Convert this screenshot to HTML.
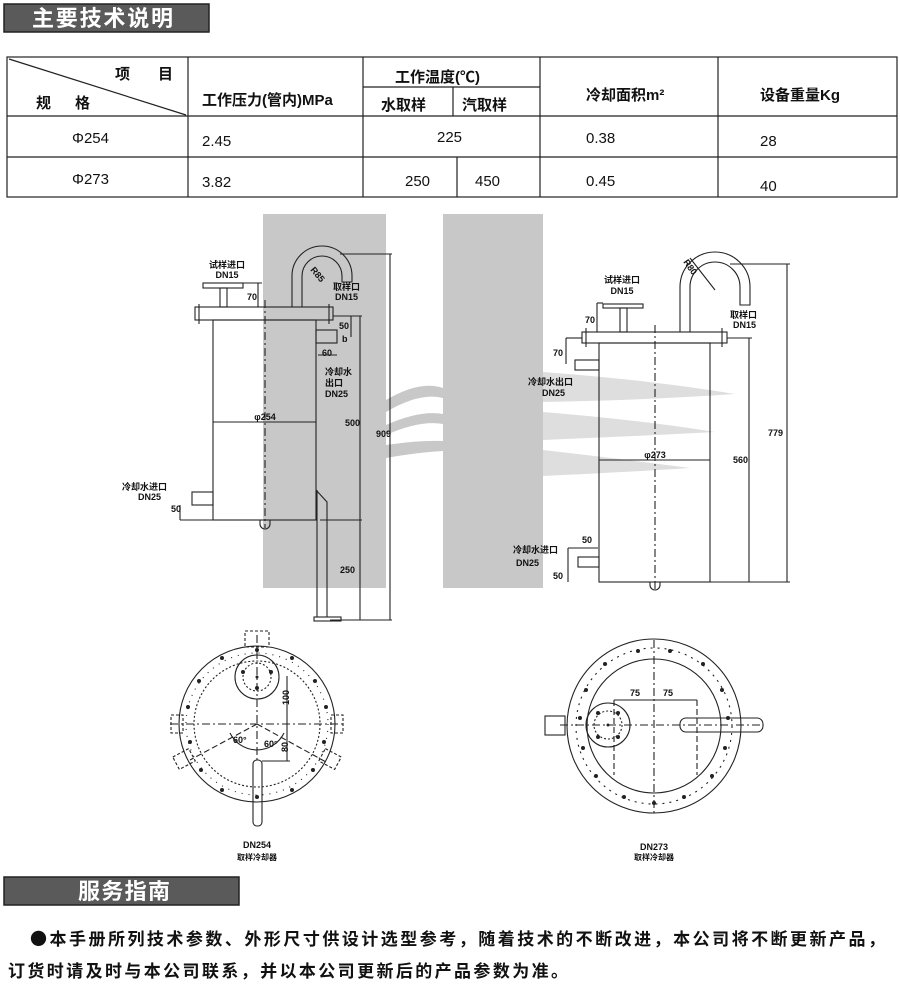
<!DOCTYPE html>
<html><head><meta charset="utf-8"><style>
html,body{margin:0;padding:0;background:#fff;}
svg{display:block;font-family:"Liberation Sans","Noto Sans CJK SC",sans-serif;}
.t{font-weight:bold;fill:#111;}
</style></head><body>
<svg width="900" height="985" viewBox="0 0 900 985" xmlns="http://www.w3.org/2000/svg">
<!-- header 1 -->
<rect x="4" y="4" width="205" height="28" fill="#5a5a5a" stroke="#222" stroke-width="1.5"/>
<text x="32" y="26" font-size="22" font-weight="bold" fill="#fff" font-family="Noto Sans CJK SC,sans-serif" textLength="141">主要技术说明</text>
<!-- table -->
<g stroke="#222" stroke-width="1.2" fill="none">
<rect x="7" y="57" width="890" height="140"/>
<line x1="7" y1="116" x2="897" y2="116"/>
<line x1="7" y1="157" x2="897" y2="157"/>
<line x1="188" y1="57" x2="188" y2="197"/>
<line x1="363" y1="57" x2="363" y2="197"/>
<line x1="540" y1="57" x2="540" y2="197"/>
<line x1="718" y1="57" x2="718" y2="197"/>
<line x1="363" y1="87" x2="540" y2="87"/>
<line x1="453" y1="87" x2="453" y2="116"/>
<line x1="457" y1="157" x2="457" y2="197"/>
<line x1="9" y1="59" x2="186" y2="115"/>
</g>
<g class="t" font-size="15">
<text x="115" y="79">项</text><text x="158" y="79">目</text>
<text x="36" y="108">规</text><text x="75" y="108">格</text>
<text x="202" y="105">工作压力(管内)MPa</text>
<text x="395" y="82">工作温度(℃)</text>
<text x="381" y="110">水取样</text><text x="462" y="110">汽取样</text>
<text x="586" y="100">冷却面积m²</text>
<text x="760" y="100">设备重量Kg</text>
<text x="72" y="143" font-weight="normal">Φ254</text>
<text x="202" y="146" font-weight="normal">2.45</text>
<text x="437" y="142" font-weight="normal">225</text>
<text x="586" y="143" font-weight="normal">0.38</text>
<text x="760" y="146" font-weight="normal">28</text>
<text x="72" y="184" font-weight="normal">Φ273</text>
<text x="202" y="187" font-weight="normal">3.82</text>
<text x="405" y="186" font-weight="normal">250</text>
<text x="475" y="186" font-weight="normal">450</text>
<text x="586" y="186" font-weight="normal">0.45</text>
<text x="760" y="191" font-weight="normal">40</text>
</g>
<!-- gray background -->
<g fill="#c8c8c8">
<rect x="263" y="214" width="123" height="374"/>
<rect x="443" y="214" width="100" height="374"/>
<path d="M386 400 Q420 380 443 388 L443 398 Q420 392 386 412Z"/>
<path d="M386 425 Q420 410 443 414 L443 424 Q420 420 386 435Z"/>
<path d="M386 445 Q420 440 443 441 L443 451 Q420 452 386 458Z"/>
<path d="M543 372 Q650 380 735 394 Q650 400 543 402Z" opacity="0.6"/>
<path d="M543 412 Q640 420 715 432 Q640 436 543 440Z" opacity="0.6"/>
<path d="M543 450 Q630 460 690 468 Q630 472 543 476Z" opacity="0.6"/>
</g>
<!-- LEFT ELEVATION -->
<g stroke="#222" stroke-width="1.1" fill="none">
<rect x="195" y="307" width="138" height="13"/>
<line x1="199" y1="304" x2="199" y2="324"/><line x1="329" y1="304" x2="329" y2="324"/>
<rect x="213" y="320" width="103" height="200"/>
<line x1="265" y1="300" x2="265" y2="528" stroke-dasharray="8 3 2 3"/>
<line x1="213" y1="422" x2="316" y2="422"/>
<rect x="203" y="283" width="40" height="5"/>
<rect x="220" y="288" width="7" height="19"/>
<line x1="243" y1="283" x2="262" y2="283"/><line x1="258" y1="283" x2="258" y2="307"/>
<path d="M292 307 L292 276 A30 30 0 0 1 352 276 L352 282 L342 282 L342 276 A20 20 0 0 0 302 276 L302 307"/>
<rect x="316" y="330" width="21" height="13"/>
<rect x="192" y="492" width="21" height="13"/>
<line x1="180" y1="505" x2="180" y2="520"/><line x1="180" y1="520" x2="213" y2="520"/>
<path d="M316 490 L327 502 L327 617 L317 617 L317 490"/>
<rect x="314" y="617" width="27" height="4"/>
<path d="M260 520 h10 v4 a5 5 0 0 1 -10 0z"/>
<line x1="333" y1="316" x2="362" y2="316"/>
<line x1="360" y1="316" x2="360" y2="620"/>
<line x1="320" y1="520" x2="362" y2="520"/>
<line x1="340" y1="254" x2="392" y2="254"/>
<line x1="390" y1="254" x2="390" y2="620"/>
<line x1="330" y1="620" x2="392" y2="620"/>
<line x1="351" y1="316" x2="351" y2="337"/>
<line x1="318" y1="355" x2="337" y2="355"/>
</g>
<g class="t" font-size="9">
<text x="227" y="268" text-anchor="middle">试样进口</text>
<text x="227" y="278" text-anchor="middle">DN15</text>
<text x="247" y="300">70</text>
<text x="333" y="290">取样口</text><text x="335" y="300">DN15</text>
<text x="339" y="329">50</text><text x="342" y="342">b</text>
<text x="322" y="356">60</text>
<text x="325" y="375">冷却水</text><text x="325" y="386">出口</text><text x="325" y="397">DN25</text>
<text x="345" y="426">500</text>
<text x="376" y="437">909</text>
<text x="265" y="420" text-anchor="middle">φ254</text>
<text x="122" y="490">冷却水进口</text><text x="138" y="500">DN25</text>
<text x="171" y="512">50</text>
<text x="340" y="573">250</text>
<text x="310" y="270" transform="rotate(50 310 270)">R85</text>
</g>
<!-- RIGHT ELEVATION -->
<g stroke="#222" stroke-width="1.1" fill="none">
<rect x="582" y="332" width="145" height="11"/>
<line x1="586" y1="328" x2="586" y2="347"/><line x1="722" y1="328" x2="722" y2="347"/>
<rect x="599" y="343" width="111" height="239"/>
<line x1="655" y1="325" x2="655" y2="590" stroke-dasharray="8 3 2 3"/>
<line x1="599" y1="460" x2="710" y2="460"/>
<rect x="603" y="304" width="40" height="4"/>
<rect x="620" y="308" width="7" height="24"/>
<line x1="597" y1="303" x2="603" y2="303"/><line x1="597" y1="303" x2="597" y2="332"/>
<path d="M680 332 L680 287 A35 35 0 0 1 750 287 L750 305 L740 305 L740 287 A25 25 0 0 0 690 287 L690 332"/>
<line x1="690" y1="258" x2="715" y2="290"/>
<rect x="575" y="360" width="24" height="10"/>
<rect x="578" y="557" width="21" height="10"/>
<line x1="566" y1="338" x2="582" y2="338"/><line x1="566" y1="338" x2="566" y2="364"/>
<line x1="568" y1="548" x2="598" y2="548"/><line x1="568" y1="548" x2="568" y2="582"/>
<path d="M650 582 h10 v3 a5 5 0 0 1 -10 0z"/>
<line x1="727" y1="338" x2="752" y2="338"/>
<line x1="749" y1="338" x2="749" y2="582"/>
<line x1="710" y1="582" x2="790" y2="582"/>
<line x1="730" y1="264" x2="790" y2="264"/>
<line x1="787" y1="264" x2="787" y2="582"/>
</g>
<g class="t" font-size="9">
<text x="622" y="283" text-anchor="middle">试样进口</text>
<text x="622" y="294" text-anchor="middle">DN15</text>
<text x="585" y="323">70</text>
<text x="553" y="356">70</text>
<text x="730" y="318">取样口</text><text x="733" y="328">DN15</text>
<text x="528" y="385">冷却水出口</text><text x="542" y="396">DN25</text>
<text x="655" y="458" text-anchor="middle">φ273</text>
<text x="733" y="463">560</text>
<text x="768" y="436">779</text>
<text x="513" y="553">冷却水进口</text><text x="516" y="566">DN25</text>
<text x="582" y="543">50</text>
<text x="553" y="579">50</text>
<text x="683" y="262" transform="rotate(55 683 262)">R80</text>
</g>
<!-- LEFT PLAN -->
<g stroke="#222" stroke-width="1.1" fill="none">
<circle cx="257" cy="724" r="78"/>
<circle cx="257" cy="724" r="63" stroke-dasharray="2 2"/>
<circle cx="257" cy="724" r="71" stroke-dasharray="1 6"/>
<circle cx="257" cy="677" r="22"/>
<circle cx="257" cy="677" r="14" stroke-dasharray="2 2"/>
<rect x="245" y="631" width="24" height="16" stroke-dasharray="3 2"/>
<rect x="171" y="715" width="12" height="18" stroke-dasharray="3 2"/>
<rect x="331" y="715" width="12" height="18" stroke-dasharray="3 2"/>
<line x1="170" y1="724" x2="345" y2="724" stroke-dasharray="8 3 2 3"/>
<line x1="257" y1="635" x2="257" y2="760" stroke-dasharray="8 3 2 3"/>
<line x1="257" y1="724" x2="190" y2="760" stroke-dasharray="6 3"/>
<line x1="257" y1="724" x2="326" y2="762" stroke-dasharray="6 3"/>
<rect x="175" y="752" width="18" height="14" transform="rotate(-28 184 759)" stroke-dasharray="3 2"/>
<rect x="321" y="752" width="18" height="14" transform="rotate(28 330 759)" stroke-dasharray="3 2"/>
<path d="M230 733 A30 30 0 0 0 284 733"/>
<rect x="253" y="760" width="9" height="66" rx="4"/>
<line x1="287" y1="676" x2="287" y2="761"/>
<line x1="262" y1="761" x2="290" y2="761"/>
</g>
<g fill="#222">
<circle cx="257" cy="650" r="2"/><circle cx="222" cy="658" r="2"/><circle cx="292" cy="658" r="2"/>
<circle cx="199" cy="681" r="2"/><circle cx="315" cy="681" r="2"/><circle cx="188" cy="707" r="2"/><circle cx="326" cy="707" r="2"/>
<circle cx="190" cy="742" r="2"/><circle cx="324" cy="742" r="2"/><circle cx="201" cy="770" r="2"/><circle cx="313" cy="770" r="2"/>
<circle cx="222" cy="790" r="2"/><circle cx="292" cy="790" r="2"/><circle cx="257" cy="797" r="2"/>
<circle cx="243" cy="672" r="2"/><circle cx="271" cy="672" r="2"/><circle cx="257" cy="688" r="2"/><circle cx="257" cy="677" r="1.5"/>
</g>
<g class="t" font-size="9">
<text x="289" y="705" transform="rotate(-90 289 705)">100</text>
<text x="288" y="752" transform="rotate(-90 288 752)">80</text>
<text x="233" y="743">60°</text><text x="264" y="747">60°</text>
<text x="257" y="848" text-anchor="middle">DN254</text>
<text x="257" y="860" text-anchor="middle" font-size="8">取样冷却器</text>
</g>
<!-- RIGHT PLAN -->
<g stroke="#222" stroke-width="1.1" fill="none">
<circle cx="654" cy="726" r="87"/>
<circle cx="654" cy="726" r="78" stroke-dasharray="2 5"/>
<circle cx="654" cy="726" r="67"/>
<circle cx="608" cy="725" r="22"/>
<circle cx="608" cy="725" r="14" stroke-dasharray="2 2"/>
<rect x="545" y="716" width="20" height="19"/>
<rect x="680" y="718" width="83" height="14" rx="6"/>
<line x1="560" y1="725" x2="760" y2="725" stroke-dasharray="8 3 2 3"/>
<line x1="654" y1="640" x2="654" y2="815" stroke-dasharray="8 3 2 3"/>
<line x1="614" y1="700" x2="697" y2="700"/>
<line x1="614" y1="700" x2="614" y2="775" stroke-dasharray="6 3"/>
<line x1="697" y1="700" x2="697" y2="775" stroke-dasharray="6 3"/>
</g>
<g fill="#222">
<circle cx="638" cy="651" r="2"/><circle cx="670" cy="651" r="2"/><circle cx="605" cy="664" r="2"/><circle cx="703" cy="664" r="2"/>
<circle cx="586" cy="690" r="2"/><circle cx="722" cy="690" r="2"/><circle cx="580" cy="718" r="2"/><circle cx="728" cy="718" r="2"/>
<circle cx="583" cy="748" r="2"/><circle cx="725" cy="748" r="2"/><circle cx="596" cy="776" r="2"/><circle cx="712" cy="776" r="2"/>
<circle cx="624" cy="797" r="2"/><circle cx="684" cy="797" r="2"/><circle cx="654" cy="803" r="2"/>
<circle cx="598" cy="713" r="2"/><circle cx="618" cy="713" r="2"/><circle cx="598" cy="737" r="2"/><circle cx="618" cy="737" r="2"/><circle cx="608" cy="725" r="1.5"/>
</g>
<g class="t" font-size="9">
<text x="630" y="696">75</text><text x="663" y="696">75</text>
<text x="654" y="850" text-anchor="middle">DN273</text>
<text x="654" y="860" text-anchor="middle" font-size="8">取样冷却器</text>
</g>
<!-- header 2 -->
<rect x="4" y="877" width="235" height="28" fill="#5a5a5a" stroke="#222" stroke-width="1.5"/>
<text x="78" y="899" font-size="22" font-weight="bold" fill="#fff" font-family="Noto Sans CJK SC,sans-serif" textLength="92">服务指南</text>
<g class="t" font-size="17" font-family="Noto Sans CJK SC,sans-serif">
<text x="30" y="945" textLength="855" lengthAdjust="spacing">●本手册所列技术参数、外形尺寸供设计选型参考，随着技术的不断改进，本公司将不断更新产品，</text>
<text x="8" y="977" textLength="560" lengthAdjust="spacing">订货时请及时与本公司联系，并以本公司更新后的产品参数为准。</text>
</g>
</svg>
</body></html>
